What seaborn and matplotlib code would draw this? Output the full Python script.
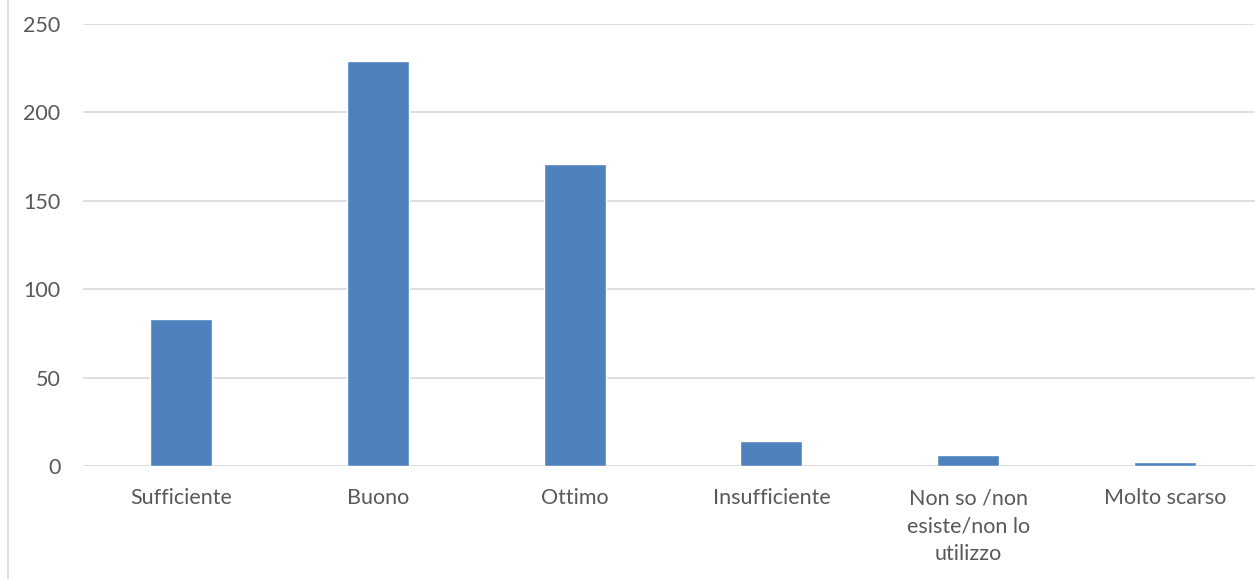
import matplotlib
matplotlib.use("Agg")
import matplotlib.pyplot as plt
import seaborn as sns
from matplotlib.lines import Line2D

categories = ["Sufficiente", "Buono", "Ottimo", "Insufficiente",
              "Non so /non\nesiste/non lo\nutilizzo", "Molto scarso"]
values = [83, 229, 171, 14, 6, 2]
yticks = [0, 50, 100, 150, 200, 250]

sns.set_theme(style="white")
plt.rcParams['font.family'] = ['Lato', 'DejaVu Sans']

fig = plt.figure(figsize=(12.55, 5.79), dpi=100)
ax = fig.add_axes([82.5 / 1255, 113 / 579, 1181 / 1255, 442 / 579])

sns.barplot(x=categories, y=values, color="#4f81bd", saturation=1,
            width=0.315, ax=ax, zorder=3)

ax.set_xlim(-0.5, 5.5)
ax.set_ylim(0, 250)
ax.set_yticks(yticks)
ax.set_yticklabels([str(t) for t in yticks])
ax.yaxis.grid(True, color="#d9d9d9", linewidth=1.2, zorder=0)
ax.set_axisbelow(True)
for s in ax.spines.values():
    s.set_visible(False)
ax.axhline(0, color="#d9d9d9", linewidth=1.2, zorder=2)
ax.tick_params(axis="y", length=0, pad=16, labelsize=15.5, labelcolor="#595959")
ax.tick_params(axis="x", length=0, pad=16, labelsize=15.5, labelcolor="#595959")
for lbl in ax.get_xticklabels():
    lbl.set_linespacing(1.5)
    lbl.set_horizontalalignment("center")
ax.set_xlabel("")
ax.set_ylabel("")

fig.add_artist(Line2D([7.5 / 1255, 7.5 / 1255], [0, 1], transform=fig.transFigure,
                      color="#d9d9d9", linewidth=1.2))

fig.savefig("out.png", dpi=100)
